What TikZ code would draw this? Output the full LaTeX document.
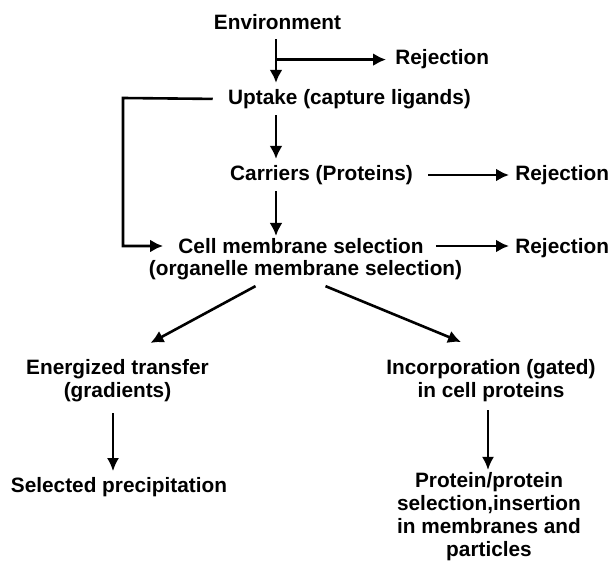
\documentclass[tikz,border=0pt]{standalone}
\usepackage{fontspec}
\setmainfont{Liberation Sans}
\usetikzlibrary{arrows.meta,positioning,calc}

\begin{document}
\begin{tikzpicture}[
  x=0.5pt,y=-0.5pt,
  lbl/.style={font=\bfseries\fontsize{10.4}{11.5}\selectfont,align=center,inner sep=3pt},
  arr/.style={-{Latex[length=6.5pt,width=6.5pt]},line width=1.3pt},
  thinarr/.style={-{Latex[length=6.5pt,width=6pt]},line width=0.8pt}
]
\useasboundingbox (0,0) rectangle (615,561);

% main column
\node[lbl] (env) at (277.5,22) {Environment};
\node[lbl] (uptake) at (349.5,99) {Uptake (capture ligands)};
\node[lbl] (carriers) at (321.5,175) {Carriers (Proteins)};
\node[lbl] (cell) at (301,246) {Cell membrane selection};
\node[lbl] (organelle) at (305.5,270) {(organelle membrane selection)};

% rejections
\node[lbl,anchor=west] (rej1) at (389,59.6) {Rejection};
\node[lbl,anchor=west] (rej2) at (509,175) {Rejection};
\node[lbl,anchor=west] (rej3) at (509,248) {Rejection};

% lower branches
\node[lbl] (energ) at (117.5,380.6) {Energized transfer\\(gradients)};
\node[lbl] (incorp) at (491,380.6) {Incorporation (gated)\\in cell proteins};
\node[lbl] (selprec) at (119,487.1) {Selected precipitation};
\node[lbl] (protsel) at (489,516.4) {Protein/protein\\selection,insertion\\in membranes and\\particles};

\coordinate (spine) at (276,0);
\coordinate (loop) at (123,98);

\draw[arr,shorten <=1.5pt] (spine |- env.south) -- (spine |- uptake.north);
\draw[arr,shorten >=1.5pt] (spine |- rej1.west) -- (rej1.west);
\draw[arr] (spine |- uptake.south) -- (spine |- carriers.north);
\draw[arr,shorten <=4.5pt] (carriers.east) -- (rej2.west);
\draw[arr,shorten >=-2pt] (spine |- carriers.south) -- (spine |- cell.north);
\draw[arr,shorten <=3pt] (cell.east) -- (cell.east -| rej3.west);
\draw[arr,shorten <=4.5pt,shorten >=4.5pt] (uptake.west) -- (loop) |- (cell.west);

\draw[arr] ([xshift=-25pt]organelle.south) -- ([xshift=16.5pt,yshift=5pt]energ.north);
\draw[arr] ([xshift=10pt]organelle.south) -- ([xshift=-15pt,yshift=5.5pt]incorp.north);

\draw[thinarr,shorten <=2.5pt] ($(energ.south)+(-4.5,0)$) -- ($(energ.south |- selprec.north)+(-4.5,0)$);
\draw[thinarr,shorten <=1pt,shorten >=-2pt] ($(incorp.south)+(-3,0)$) -- ($(incorp.south |- protsel.north)+(-3,0)$);
\end{tikzpicture}
\end{document}
